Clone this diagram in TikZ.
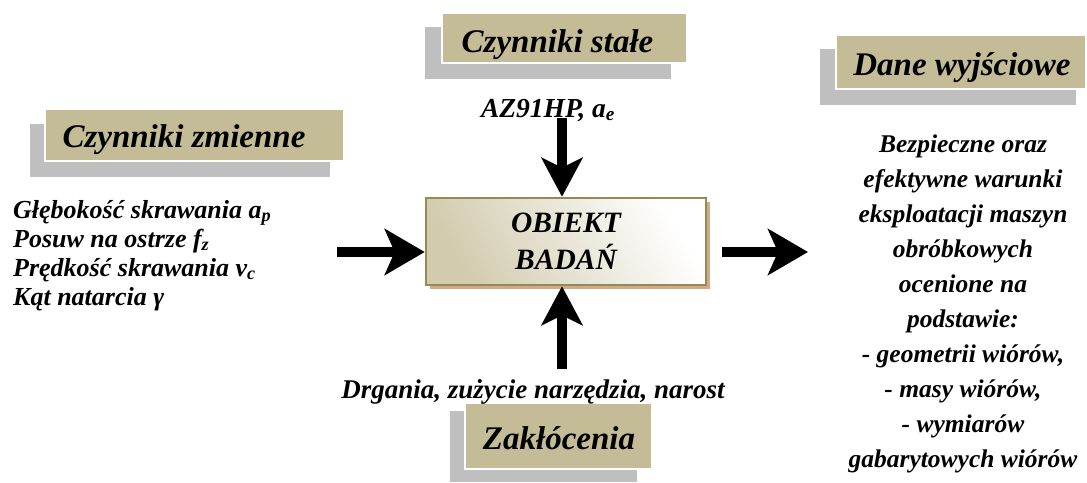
\documentclass[tikz,border=0pt]{standalone}
\usepackage{fontspec}
\setmainfont{Liberation Serif}
\usetikzlibrary{arrows.meta}
\definecolor{tanbox}{HTML}{C4BC96}
\definecolor{shadowgray}{HTML}{BFBFBF}
\definecolor{olivebd}{HTML}{948A54}
\definecolor{peach}{HTML}{D2A98A}
\definecolor{boxtan}{HTML}{D2CBAE}
\begin{document}
\begin{tikzpicture}[x=1pt,y=-1pt,
  titlebox/.style={draw=white, line width=1.8pt, fill=tanbox},
  greybox/.style={fill=shadowgray},
  titletext/.style={font=\fontsize{33}{38}\selectfont\bfseries\itshape, inner sep=0, anchor=base},
  body/.style={font=\fontsize{26}{29}\selectfont\bfseries\itshape, inner sep=0},
  rightbody/.style={font=\fontsize{25.5}{35}\selectfont\bfseries\itshape, inner sep=0, align=center, anchor=base},
  vert/.style={line width=9.5pt, -{Stealth[length=39pt,width=41pt,inset=10pt]}},
  horiz/.style={line width=9.5pt, -{Stealth[length=40pt,width=46pt,inset=10pt]}},
]
\useasboundingbox (0,0) rectangle (1087,482);

% title boxes
\fill[greybox] (425,27) rectangle (671,79);
\draw[titlebox] (442,13) rectangle (687,63);
\node[titletext] (tstale) at (557.5,52) {Czynniki stałe};

\fill[greybox] (30,124) rectangle (330,177);
\draw[titlebox] (45,109) rectangle (344,161);
\node[titletext] (tzmienne) at (184,147) {Czynniki zmienne};

\fill[greybox] (820,49) rectangle (1076,105);
\draw[titlebox] (836,35) rectangle (1086,89);
\node[titletext] (tdane) at (962,75) {Dane wyjściowe};

\fill[greybox] (450,411) rectangle (637,482);
\draw[titlebox] (465,403) rectangle (652,469);
\node[titletext] (tzakl) at (559,449) {Zakłócenia};

% object box
\fill[peach] (430,202) rectangle (710,289);
\node[draw=olivebd, line width=2.5pt, minimum width=280pt, minimum height=87pt,
      inner sep=0, top color=white, bottom color=boxtan, shading angle=-60,
      align=center, font=\fontsize{29.5}{37}\selectfont\bfseries\itshape]
      (obj) at (566,241.5) {OBIEKT\\BADAŃ};

% texts
\node[body, anchor=base, font=\fontsize{27.5}{29}\selectfont\bfseries\itshape] (az) at (548,117) {AZ91HP, a\textsubscript{e}};
\node[body, anchor=base west, align=left] (zm) at (13,305)
  {Głębokość skrawania a\textsubscript{p}\\
   Posuw na ostrze f\textsubscript{z}\\
   Prędkość skrawania v\textsubscript{c}\\
   Kąt natarcia γ};
\node[body, anchor=base, font=\fontsize{27}{29}\selectfont\bfseries\itshape] (dist) at (533,398) {Drgania, zużycie narzędzia, narost};
\node[rightbody] (out) at (963,467)
  {Bezpieczne oraz\\
   efektywne warunki\\
   eksploatacji maszyn\\
   obróbkowych\\
   ocenione na\\
   podstawie:\\
   - geometrii wiórów,\\
   - masy wiórów,\\
   - wymiarów\\
   gabarytowych wiórów};

% arrows
\coordinate (topin) at (562,118);
\coordinate (botin) at (562,369);
\coordinate (leftin) at (337,252);
\coordinate (outA) at (722,252);
\coordinate (outB) at (808,252);
\draw[vert] (topin) -- (topin |- obj.north);
\draw[vert] (botin) -- (botin |- obj.south);
\draw[horiz] (leftin) -- (leftin -| obj.west);
\draw[horiz] (outA) -- (outB);
\end{tikzpicture}
\end{document}
